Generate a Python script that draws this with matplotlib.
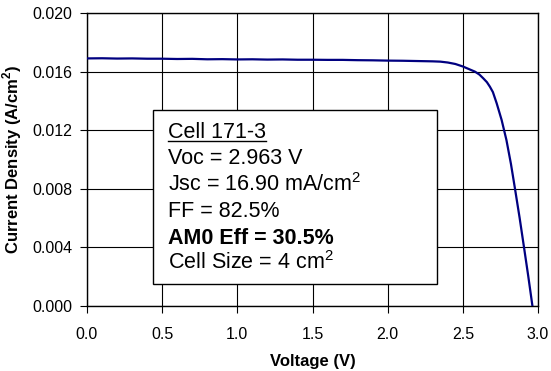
import matplotlib
matplotlib.use("Agg")
import matplotlib.pyplot as plt
from matplotlib.lines import Line2D
from matplotlib.patches import Rectangle

plt.rcParams['font.family'] = ['Liberation Sans', 'DejaVu Sans']
plt.rcParams['mathtext.fontset'] = 'custom'
plt.rcParams['mathtext.rm'] = 'Liberation Sans'
plt.rcParams['mathtext.bf'] = 'Liberation Sans:bold'

# I-V curve data
voltage = [0.0, 0.1, 0.2, 0.3, 0.4, 0.5, 0.6, 0.7, 0.8, 0.9, 1.0, 1.1, 1.2, 1.3, 1.4,
           1.5, 1.6, 1.7, 1.8, 1.9, 2.0, 2.1, 2.2, 2.3, 2.35, 2.4, 2.45, 2.5, 2.55, 2.58,
           2.61, 2.636, 2.66, 2.68, 2.70, 2.725, 2.758, 2.79, 2.82, 2.847, 2.878, 2.907,
           2.935, 2.963]
current = [0.01690, 0.01691, 0.01689, 0.01690, 0.01688, 0.01688, 0.01686, 0.01687, 0.01684, 0.01685,
           0.01683, 0.01684, 0.01682, 0.01683, 0.01681, 0.01681, 0.01680, 0.01680, 0.01678, 0.01677,
           0.01675, 0.01674, 0.01672, 0.01670, 0.01668, 0.01662, 0.01652, 0.01635, 0.01613, 0.01600,
           0.01580, 0.01554, 0.01528, 0.01497, 0.01460, 0.01384, 0.01270, 0.01133, 0.00970, 0.00800,
           0.00600, 0.00400, 0.00205, 0.00000]

xticks = [0.0, 0.5, 1.0, 1.5, 2.0, 2.5, 3.0]
yticks = [0.000, 0.004, 0.008, 0.012, 0.016, 0.020]

box_lines = [
    ("Cell 171-3", "normal", True),
    ("Voc = 2.963 V", "normal", False),
    ("Jsc = 16.90 mA/cm$^{2}$", "normal", False),
    ("FF = 82.5%", "normal", False),
    ("AM0 Eff = 30.5%", "bold", False),
    ("Cell Size = 4 cm$^{2}$", "normal", False),
]

W, H = 551, 371
fig = plt.figure(figsize=(W / 100, H / 100), dpi=100)
ax = fig.add_axes([87 / W, 1 - 306 / H, (538 - 87) / W, (306 - 13) / H])

ax.plot(voltage, current, color='#000080', lw=1.6, zorder=3)
ax.set_xlim(0, 3.0)
ax.set_ylim(0, 0.020)
ax.set_xticks(xticks)
ax.set_yticks(yticks)
ax.set_xticklabels([f"{v:.1f}" for v in xticks])
ax.set_yticklabels([f"{v:.3f}" for v in yticks])
ax.grid(True, color='black', lw=0.8)
ax.set_axisbelow(True)
for s in ax.spines.values():
    s.set_color('black')
    s.set_linewidth(1.0)
ax.tick_params(direction='out', length=5, width=0.8, color='black', labelsize=11.5)
ax.tick_params(axis='x', pad=10)
ax.tick_params(axis='y', pad=5.5)
ax.set_xlabel("Voltage (V)", fontsize=12, fontweight='bold', labelpad=9)
ax.set_ylabel("Current Density (A/cm$^{\\mathbf{2}}$)", fontsize=12, fontweight='bold', labelpad=6)

# text box
rect = Rectangle((153 / W, 1 - 284 / H), (437 - 153) / W, (284 - 110) / H,
                 transform=fig.transFigure, facecolor='white', edgecolor='black',
                 lw=1.0, zorder=5)
fig.patches.append(rect)
ys = [132, 158.5, 185, 211.5, 238, 263]
renderer = fig.canvas.get_renderer()
for (txt, fw, ul), py in zip(box_lines, ys):
    t = fig.text(168 / W, 1 - py / H, txt, fontsize=15.5, fontweight=fw,
                 va='center', ha='left', zorder=6)
    if ul:
        bb = t.get_window_extent(renderer=renderer)
        yline = bb.y0 + 1.5
        fig.lines.append(Line2D([bb.x0 / W, bb.x1 / W], [yline / H, yline / H],
                                transform=fig.transFigure, color='black', lw=1.0, zorder=6))

fig.savefig("out.png", dpi=100)
